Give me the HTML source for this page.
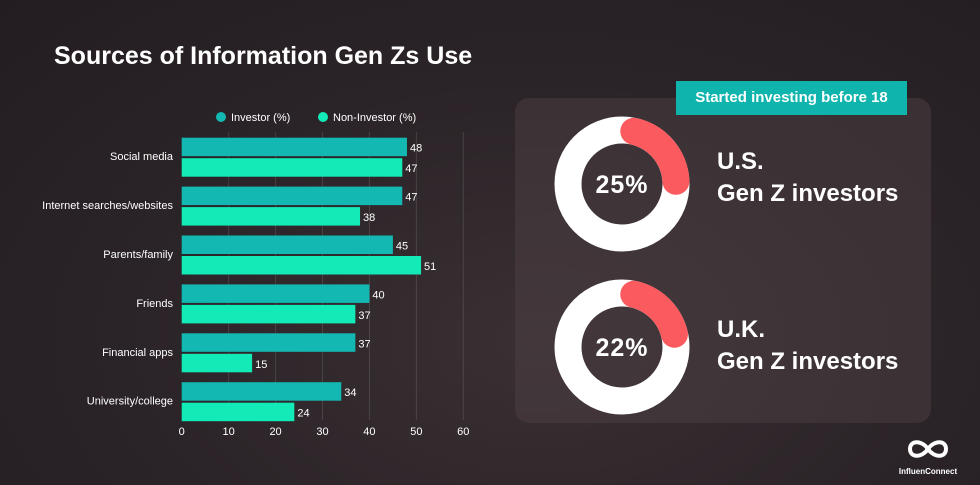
<!DOCTYPE html>
<html><head><meta charset="utf-8">
<style>
html,body{margin:0;padding:0;}
body{width:980px;height:485px;overflow:hidden;background:#2a2327;font-family:"Liberation Sans",sans-serif;position:relative;}
.t{position:absolute;color:#fff;}
</style></head><body>
<div style="position:absolute;inset:0;background:radial-gradient(ellipse at 55% 70%,#3a3033 0%,#2a2327 55%,#231d21 100%);"></div>
<div class="t" style="left:54px;top:42px;font-size:25px;font-weight:bold;">Sources of Information Gen Zs Use</div>
<svg id="chart" width="980" height="485" style="position:absolute;left:0;top:0;"></svg>
<div style="position:absolute;left:515px;top:98px;width:416px;height:325px;border-radius:14px;background:rgba(74,62,66,0.55);"></div>
<div class="t" style="left:676px;top:81px;width:231px;height:34px;background:#0fb5ad;font-size:15px;font-weight:bold;line-height:34px;text-align:center;">Started investing before 18</div>
<svg id="donuts" width="980" height="485" style="position:absolute;left:0;top:0;"></svg>
<div class="t" style="left:717px;top:146px;font-size:24px;font-weight:bold;line-height:32px;">U.S.<br>Gen Z investors</div>
<div class="t" style="left:717px;top:314px;font-size:24px;font-weight:bold;line-height:32px;">U.K.<br>Gen Z investors</div>
<div style="position:absolute;left:898px;top:436px;width:60px;height:40px;">
<svg width="60" height="26" viewBox="0 0 60 26"><path d="M30 13 C24 4,12 4,12 13 C12 22,24 22,30 13 C36 4,48 4,48 13 C48 22,36 22,30 13Z" fill="none" stroke="#fff" stroke-width="4"/></svg>
<div class="t" style="position:static;font-size:8px;font-weight:bold;text-align:center;">InfluenConnect</div>
</div>
<script>
const categories=["Social media","Internet searches/websites","Parents/family","Friends","Financial apps","University/college"];
const investor=[48,47,45,40,37,34];
const nonInvestor=[47,38,51,37,15,24];
const ticks=[0,10,20,30,40,50,60];
const donutLabels=["25%","22%"];
const donutValues=[25,22];
const NS="http://www.w3.org/2000/svg";
const svg=document.getElementById('chart');
function mk(tag,attrs,parent){const e=document.createElementNS(NS,tag);for(const k in attrs)e.setAttribute(k,attrs[k]);(parent||svg).appendChild(e);return e;}
const x0=181.7,x1=463.3,xmax=60;
const xs=v=>x0+(x1-x0)*v/xmax;
const top0=137.7,stride=48.9,bh=18.5,gap=2;
ticks.forEach(t=>{
  if(t>0){const g=mk('line',{x1:xs(t),x2:xs(t),y1:132,y2:420,stroke:'rgba(255,255,255,0.12)','stroke-width':1});
  
  }
  const tx=mk('text',{x:xs(t),y:435,fill:'#fff','font-size':11,'text-anchor':'middle'});
  tx.textContent=t;
  
  
});
categories.forEach((c,i)=>{
  const y=top0+i*stride;
  const l=mk('text',{x:173,y:y+bh+4,fill:'#fff','font-size':11,'text-anchor':'end'});
  l.textContent=c;
  
  
  [[investor[i],'#12b8b1',y],[nonInvestor[i],'#12eab8',y+bh+gap]].forEach(([v,col,yy],k)=>{
    const r=mk('rect',{x:x0,y:yy,width:xs(v)-x0,height:bh,fill:col});
    
    
    const vt=mk('text',{x:xs(v)+3,y:yy+14,fill:'#fff','font-size':11});
    vt.textContent=v;
    
    
  });
});
[['Investor (%)','#12b8b1',221,231],['Non-Investor (%)','#12eab8',323,333]].forEach(([n,col,cx,tx])=>{
  const c=mk('circle',{cx:cx,cy:117,r:5,fill:col});
  
  
  const t=mk('text',{x:tx,y:121,fill:'#fff','font-size':11});
  t.textContent=n;
  
  
});
const d=document.getElementById('donuts');
const centers=[[622,184],[622,347]];
const R=54,W=27;
donutValues.forEach((v,i)=>{
  const [cx,cy]=centers[i];
  const ring=mk('circle',{cx:cx,cy:cy,r:R,fill:'none',stroke:'#fff','stroke-width':W},d);
  
  
  const a0=-Math.PI/2+0.22,a1=-Math.PI/2+2*Math.PI*v/100-0.05;
  const p=`M${cx+R*Math.cos(a0)} ${cy+R*Math.sin(a0)} A${R} ${R} 0 0 1 ${cx+R*Math.cos(a1)} ${cy+R*Math.sin(a1)}`;
  const arc=mk('path',{d:p,fill:'none',stroke:'#fb5b5f','stroke-width':W,'stroke-linecap':'round'},d);
  
  
  const t=mk('text',{x:cx,y:cy+9,fill:'#fff','font-size':25,'font-weight':'bold','text-anchor':'middle','letter-spacing':1},d);
  t.textContent=donutLabels[i];
  
  
});
</script>
</body></html>
